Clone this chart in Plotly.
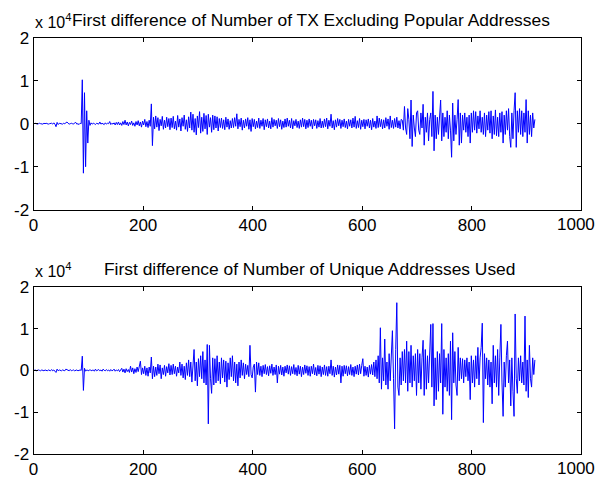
import plotly.graph_objects as go

# ---- data (values in hundreds; sampled every 2 days starting at day 1) ----
sample_start = 1
sample_step = 2

tx_diff = [
    0, 1, 0, -1, 0, 1, 0, 0, -1, 1,
    0, 1, 0, -1, 0, 0, 1, -1, 2, -1,
    -7, 3, -2, 1, 0, 0, -1, 1, 0, 2,
    4, 1, -1, 0, 1, 0, -1, 2, 3, -1,
    0, -2, 1,
    0, 102, -115, 72, -100, 30, -45, 8, -4,
    2, -1, 1, 0, -2, 1, 0, -1, 4, -1,
    1, 0, -2, 2, -1, 1, 0, 5, -2, 1,
    -1, 2, -3,
    3, -2, 4, -3, 2, -4, 5, -2, 8, -3,
    4, -5, 3, -2, 6, -4, 2, -6, 5, -3,
    7, -5, 4, -8, 6, -3, 10, -7, 5, -9,
    8, -6,
    46, -51, 15,
    -12, 18, -8, 14, -16, 10, -5, 17, -13, 8,
    -10, 15, -7, 12, -14,
    13, -9, 17, -12, 6, -15, 19, -8, 11, -17,
    14, -6, 20, -13, 9, -18, 16, -10,
    27, -15, 22, -20, 12, -26, 18, -9, 28, -22,
    15, -18, 24, -12, 19, -25, 22, -8, 14, -20,
    20, -14, 18, -10, 16, -17, 12, -9,
    13, -11, 9, -14, 15, -8, 11, -13, 7, -10,
    12, -9, 14, -6, 23, -12, 10, -7, 13, -15,
    8, -10, 11, -6, 14, -13, 9, -18, 12, -7,
    10, -12, 6, -9, 13, -11, 8, -6, 12, -14,
    9, -7, 11, -10, 6, -12, 14, -8, 10, -5,
    8, -11, 12, -7, 9, -13, 6, -9, 11, -8,
    13, -6, 8, -10, 12, -12, 7, -5, 10, -9,
    6, -11, 9, -8, 13, -7, 10, -12, 8,
    -9, 11, -6, 8, -12, 10, -5, 9, -11, 7,
    -8, 12, -10, 6, -9, 11, -7, 13, -12, 8,
    -6, 22, -10, 7, -14, 9, -8, 12, -5, 10,
    -11, 8, -7, 11, -9, 6, -12, 10, -6, 9,
    -10, 13, -8, 17, -11, 7, -9, 12, -13, 8,
    -7, 10, -12, 9, -6, 11, -10, 8, -14, 12,
    -8, 6, -11, 18, -9, 13, -7, 10, -12, 9,
    -10, 14, -6, 11, -13, 18, -9, 8, -11, 12,
    -8, 15, -10, 7, -12, 10,
    8, -15, 40, -10, -25, 35, 10, -35, 55, -53,
    20, -10, -30, 25, 30, -15, -25, 25, -10, 45,
    -50, 15, -20, 25, -40, 10, 25, -30, 75, -63,
    20, -35, 15, -25, 10, 55, -40, 25, -30, 15,
    -20, 30, -35, 20, -15, -78, 48, -40, 20, -25,
    10, 56, -50, 25, -45, 20, -15, 25, -20, 15,
    -30, 20, -45, 25, -20, 30, -15, 28, -22, 18,
    -12, 30, -20, 15, -25, 25, -30, 20, -15, 28,
    -22, 30, -35, 18, -25, 32, -28, 15, -30, 25,
    -20, 28, -45, 20, -25, 30, -15, 35, -30, -55,
    25, -35, 30, 72, -55, 30, -20, 35, -25, 30,
    -30, 25, -20, 56, -45, 30, -25, 20, -30, 25,
    -10, 10,
]

addr_diff = [
    0, 1, -1, 0, 1, 0, -1, 1, 0, -1,
    1, 0, -1, 1, 0, -1, 2, -1, 1, -2,
    -5, 3, -1, 1, 0, -1, 1, 0, -1, 3,
    1, 0, -1, 2, -1, 0, 1, -1, 0, 1,
    -1, 0, 1,
    0, 34, -48, 5, -2,
    1, 0, -1, 2, -1, 0, 1, -2, 3, -1,
    0, 2, -1, 1, -2, 3, 0, -1, 2, -1,
    1, -2, 2, -1, 0, 3, -2, 1, -1, 2, -3, 1,
    5, -4, 3, -6, 4, -3, 2, -5, 10, -4,
    6, -8, 4, -5, 8, -3, 12, 22, -10, 6,
    -8, 10, -12, 6, -14, 8, -6,
    32, -20,
    10, -15, 8, -12, 15, -8, 13, -20, 6, -10,
    12, -14, 9, -6, 16, -11,
    12, -10, 15, -8, 10, -14, 8, -6, 20, -12,
    15, -18, 10, -22, 18, -12, 25, -15, 20, -28,
    30, 50, -25, 20, -37, 28, -15, 35, -20, 45,
    -30, 25, -35, 62, -128, 60, -20, -55, 30, -35,
    28, -30, 35, -25, 20, -32, 30, -18, 25, -28,
    22, -40, 18, -22, 30, -15, 35, -25, 20, -30,
    15, -37, 20, -18, 25, -12, 18, -20, 15, -10,
    12, -15, 60, -10, -18, 8, 15, -52, 20, -10,
    18, -12, 10, -15, 12, -8, 14, -10, 9, -13,
    11, -7, 15, -12, 8, -10, 13, -30, 10, -9,
    12, -11, 8, -14, 10, -6, 13, -9, 11, -12,
    9, -8, 14, -10, 7, -13, 12, -9, 10, -15,
    8, -10, 13, -7, 11,
    -12, 9, -14, 10, -8, 15, -11, 7, -13, 12,
    -9, 11, -15, 8, -10, 13, -12, 9, -14, 10,
    -8, 25, -12, 10, -16, 8, -11, 13, -9, 12,
    -30, 10, -14, 12, -8, 11, -13, 9, -10, 14,
    -12, 8, -15, 10, -9, 13, -11, 15, -8, 12,
    28, -14, 10, -12, 8, -16, 12, -9, 14, -11,
    20, -15, 25, -20, 35, -30, 102, -45, 30, -25,
    75, -35, 20, -45, 40, -25, 50, 95, -20, -140,
    50, 162, -40, -60, 30, -35, 45, -25, 50, -30,
    70, -50, 45, -30, 60, -40, 35, -25, 40, -60,
    50, -30, 40, -45, 30, 72, -60, 50, -45, 35,
    -30, 40, 110, -40, 112, -85, 30, -70, 45, -50,
    40, -30, 112, -105, 50, -40, 30, -50, 40, -60,
    70, -118, 90, -30, 45, -35, -60, 55, -25, 30,
    -20, 28, -30, 25, -15, 30, -25, 20, -70, 35,
    -30, 25, -40, 35, -20, 55, -35, 30, 55, 113,
    -125, 40, -20, 30, -35, 25, -40, 20, -80, 60,
    -30, 35, -40, 50, -60, 30, 110, -30, -110, 20,
    -40, 35, 70, -30, 25, -85, 30, -50, -110, 135,
    -20, -55, 30, -25, 35, -30, 20, -35, 130, -50,
    25, -65, 60, -20, -40, 30, -10, 25,
]

value_unit = 100          # stored values are in hundreds
axis_scale = 1e4          # axis labels shown in units of 10^4
x_ticks = [0, 200, 400, 600, 800, 1000]
y_ticks = [-2, -1, 0, 1, 2]
titles = [
    "First difference of Number of TX Excluding Popular Addresses",
    "First difference of Number of Unique Addresses Used",
]

# ---- figure ----
W, H = 597, 484
font_family = "Liberation Sans, Arial, sans-serif"

# target pixel -> figure pixel (small correction measured on the rendered photo)
def fx(x):
    return (x - 4.5) / 0.99

def fy(y):
    return (y - 8.4) / 0.96

def px(x):
    return fx(x) / W

def py(y):
    return 1 - fy(y) / H

def xs(series):
    return [sample_start + sample_step * i for i in range(len(series))]

fig = go.Figure()
fig.add_trace(go.Scatter(x=xs(tx_diff), y=[v * value_unit for v in tx_diff],
                         mode="lines", line=dict(color="#0000ff", width=1),
                         xaxis="x", yaxis="y", showlegend=False))
fig.add_trace(go.Scatter(x=xs(addr_diff), y=[v * value_unit for v in addr_diff],
                         mode="lines", line=dict(color="#0000ff", width=1),
                         xaxis="x2", yaxis="y2", showlegend=False))

# target pixel boxes of the two axes (left, right, top, bottom)
boxes = [(33, 580, 37, 209), (33, 580, 286, 453)]

inner_x_ticks = x_ticks[:-1]
common_x = dict(range=[0, 1000], tickvals=x_ticks,
                ticktext=[str(t) if t in inner_x_ticks else "" for t in x_ticks],
                ticks="inside", ticklen=4, tickcolor="black", showline=True,
                linecolor="black", linewidth=1, mirror="ticks", showgrid=False,
                zeroline=False, tickfont=dict(size=17, color="black"))
common_y = dict(range=[-2 * axis_scale, 2 * axis_scale],
                tickvals=[t * axis_scale for t in y_ticks],
                ticktext=[str(t) for t in y_ticks],
                ticks="inside", ticklen=4, tickcolor="black", showline=True,
                linecolor="black", linewidth=1, mirror="ticks", showgrid=False,
                zeroline=False, tickfont=dict(size=17, color="black"))

fig.update_layout(
    width=W, height=H, margin=dict(l=0, r=0, t=0, b=0),
    paper_bgcolor="white", plot_bgcolor="white",
    font=dict(family=font_family, color="black"),
    xaxis=dict(domain=[px(boxes[0][0]), px(boxes[0][1])], anchor="y", **common_x),
    yaxis=dict(domain=[py(boxes[0][3]), py(boxes[0][2])], anchor="x", **common_y),
    xaxis2=dict(domain=[px(boxes[1][0]), px(boxes[1][1])], anchor="y2", **common_x),
    yaxis2=dict(domain=[py(boxes[1][3]), py(boxes[1][2])], anchor="x2", **common_y),
)

# last x tick label ("1000") at the right edge of the window
for b in boxes:
    fig.add_annotation(text=str(x_ticks[-1]), x=1, y=py(b[3] + 3),
                       xref="paper", yref="paper", showarrow=False,
                       xanchor="right", yanchor="top", font=dict(size=17, color="black"))

# titles
fig.add_annotation(text=titles[0], x=px(310), y=py(19), xref="paper", yref="paper",
                   showarrow=False, xanchor="center", yanchor="middle",
                   font=dict(size=17.4, color="black"))
fig.add_annotation(text=titles[1], x=px(309), y=py(268), xref="paper", yref="paper",
                   showarrow=False, xanchor="center", yanchor="middle",
                   font=dict(size=17.4, color="black"))
# exponent labels
for ybot in (32.5, 281.5):
    fig.add_annotation(text="x 10<sup>4</sup>", x=px(32), y=py(ybot),
                       xref="paper", yref="paper", showarrow=False,
                       xanchor="left", yanchor="bottom", font=dict(size=16, color="black"))

fig.write_html("out.html")
